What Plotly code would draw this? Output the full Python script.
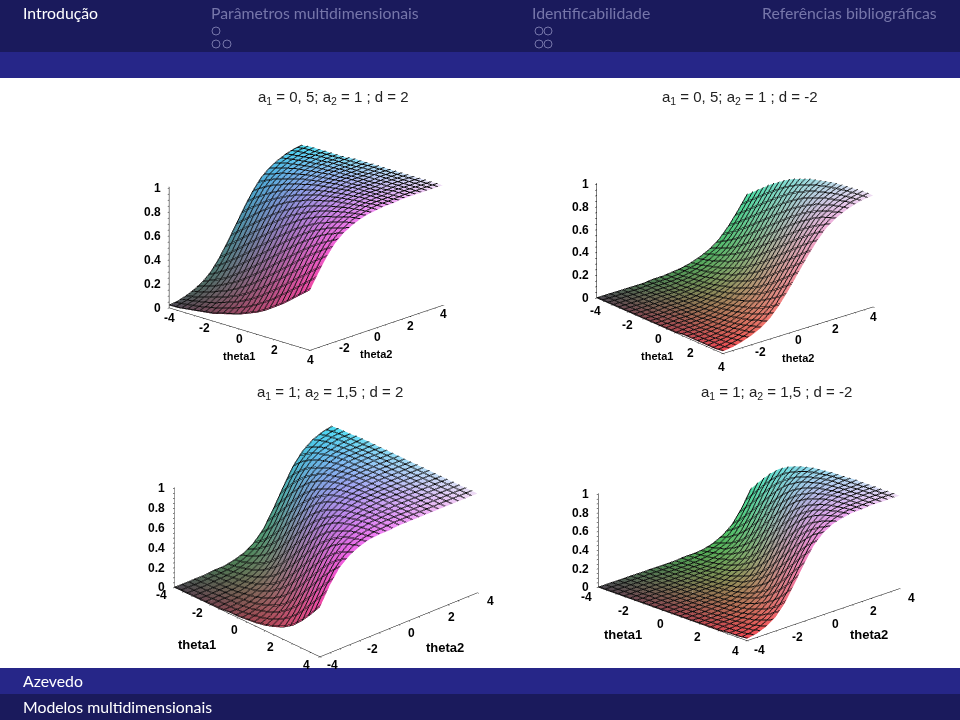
import math
import plotly.graph_objects as go

THETA1 = [-4, -3.5, -3, -2.5, -2, -1.5, -1, -0.5, 0, 0.5, 1, 1.5, 2, 2.5, 3, 3.5, 4]
THETA2 = [-4, -3.5, -3, -2.5, -2, -1.5, -1, -0.5, 0, 0.5, 1, 1.5, 2, 2.5, 3, 3.5, 4]
Z_TICKS = [0, 0.2, 0.4, 0.6, 0.8, 1]
Z_MINOR = [0, 0.05, 0.1, 0.15, 0.2, 0.25, 0.3, 0.35, 0.4, 0.45, 0.5, 0.55, 0.6, 0.65, 0.7, 0.75, 0.8, 0.85, 0.9, 0.95, 1]
T1_TICKS = [-4, -2, 0, 2, 4]
T2_TICKS_TOP = [-2, 0, 2, 4]
T2_TICKS_BOTTOM = [-4, -2, 0, 2, 4]

# Heights of the surfaces in percent; rows follow THETA1, columns THETA2.
P1 = [
[2,3,5,8,12,18,27,38,50,62,73,82,88,92,95,97,98],
[2,4,6,10,15,22,32,44,56,68,78,85,90,94,96,98,99],
[3,5,8,12,18,27,38,50,62,73,82,88,92,95,97,98,99],
[4,6,10,15,22,32,44,56,68,78,85,90,94,96,98,99,99],
[5,8,12,18,27,38,50,62,73,82,88,92,95,97,98,99,99],
[6,10,15,22,32,44,56,68,78,85,90,94,96,98,99,99,99],
[8,12,18,27,38,50,62,73,82,88,92,95,97,98,99,99,100],
[10,15,22,32,44,56,68,78,85,90,94,96,98,99,99,99,100],
[12,18,27,38,50,62,73,82,88,92,95,97,98,99,99,100,100],
[15,22,32,44,56,68,78,85,90,94,96,98,99,99,99,100,100],
[18,27,38,50,62,73,82,88,92,95,97,98,99,99,100,100,100],
[22,32,44,56,68,78,85,90,94,96,98,99,99,99,100,100,100],
[27,38,50,62,73,82,88,92,95,97,98,99,99,100,100,100,100],
[32,44,56,68,78,85,90,94,96,98,99,99,99,100,100,100,100],
[38,50,62,73,82,88,92,95,97,98,99,99,100,100,100,100,100],
[44,56,68,78,85,90,94,96,98,99,99,99,100,100,100,100,100],
[50,62,73,82,88,92,95,97,98,99,99,100,100,100,100,100,100],
]
P2 = [
[0,0,0,0,0,0,1,1,2,3,5,8,12,18,27,38,50],
[0,0,0,0,0,1,1,1,2,4,6,10,15,22,32,44,56],
[0,0,0,0,0,1,1,2,3,5,8,12,18,27,38,50,62],
[0,0,0,0,1,1,1,2,4,6,10,15,22,32,44,56,68],
[0,0,0,0,1,1,2,3,5,8,12,18,27,38,50,62,73],
[0,0,0,1,1,1,2,4,6,10,15,22,32,44,56,68,78],
[0,0,0,1,1,2,3,5,8,12,18,27,38,50,62,73,82],
[0,0,1,1,1,2,4,6,10,15,22,32,44,56,68,78,85],
[0,0,1,1,2,3,5,8,12,18,27,38,50,62,73,82,88],
[0,1,1,1,2,4,6,10,15,22,32,44,56,68,78,85,90],
[0,1,1,2,3,5,8,12,18,27,38,50,62,73,82,88,92],
[1,1,1,2,4,6,10,15,22,32,44,56,68,78,85,90,94],
[1,1,2,3,5,8,12,18,27,38,50,62,73,82,88,92,95],
[1,1,2,4,6,10,15,22,32,44,56,68,78,85,90,94,96],
[1,2,3,5,8,12,18,27,38,50,62,73,82,88,92,95,97],
[1,2,4,6,10,15,22,32,44,56,68,78,85,90,94,96,98],
[2,3,5,8,12,18,27,38,50,62,73,82,88,92,95,97,98],
]
P3 = [
[0,0,0,0,1,1,3,6,12,22,38,56,73,85,92,96,98],
[0,0,0,1,1,2,5,10,18,32,50,68,82,90,95,98,99],
[0,0,0,1,2,4,8,15,27,44,62,78,88,94,97,99,99],
[0,0,1,1,3,6,12,22,38,56,73,85,92,96,98,99,100],
[0,1,1,2,5,10,18,32,50,68,82,90,95,98,99,99,100],
[0,1,2,4,8,15,27,44,62,78,88,94,97,99,99,100,100],
[1,1,3,6,12,22,38,56,73,85,92,96,98,99,100,100,100],
[1,2,5,10,18,32,50,68,82,90,95,98,99,99,100,100,100],
[2,4,8,15,27,44,62,78,88,94,97,99,99,100,100,100,100],
[3,6,12,22,38,56,73,85,92,96,98,99,100,100,100,100,100],
[5,10,18,32,50,68,82,90,95,98,99,99,100,100,100,100,100],
[8,15,27,44,62,78,88,94,97,99,99,100,100,100,100,100,100],
[12,22,38,56,73,85,92,96,98,99,100,100,100,100,100,100,100],
[18,32,50,68,82,90,95,98,99,99,100,100,100,100,100,100,100],
[27,44,62,78,88,94,97,99,99,100,100,100,100,100,100,100,100],
[38,56,73,85,92,96,98,99,100,100,100,100,100,100,100,100,100],
[50,68,82,90,95,98,99,99,100,100,100,100,100,100,100,100,100],
]
P4 = [
[0,0,0,0,0,0,0,0,0,1,1,2,5,10,18,32,50],
[0,0,0,0,0,0,0,0,0,1,2,4,8,15,27,44,62],
[0,0,0,0,0,0,0,0,1,1,3,6,12,22,38,56,73],
[0,0,0,0,0,0,0,1,1,2,5,10,18,32,50,68,82],
[0,0,0,0,0,0,0,1,2,4,8,15,27,44,62,78,88],
[0,0,0,0,0,0,1,1,3,6,12,22,38,56,73,85,92],
[0,0,0,0,0,1,1,2,5,10,18,32,50,68,82,90,95],
[0,0,0,0,0,1,2,4,8,15,27,44,62,78,88,94,97],
[0,0,0,0,1,1,3,6,12,22,38,56,73,85,92,96,98],
[0,0,0,1,1,2,5,10,18,32,50,68,82,90,95,98,99],
[0,0,0,1,2,4,8,15,27,44,62,78,88,94,97,99,99],
[0,0,1,1,3,6,12,22,38,56,73,85,92,96,98,99,100],
[0,1,1,2,5,10,18,32,50,68,82,90,95,98,99,99,100],
[0,1,2,4,8,15,27,44,62,78,88,94,97,99,99,100,100],
[1,1,3,6,12,22,38,56,73,85,92,96,98,99,100,100,100],
[1,2,5,10,18,32,50,68,82,90,95,98,99,99,100,100,100],
[2,4,8,15,27,44,62,78,88,94,97,99,99,100,100,100,100],
]

NAV_TITLES = ["Introdução", "Parâmetros multidimensionais", "Identificabilidade", "Referências bibliográficas"]
FOOT_AUTHOR = "Azevedo"
FOOT_TITLE = "Modelos multidimensionais"
PANEL_TITLES = [
    "a<sub>1</sub> = 0, 5; a<sub>2</sub> = 1 ; d = 2",
    "a<sub>1</sub> = 0, 5; a<sub>2</sub> = 1 ; d = -2",
    "a<sub>1</sub> = 1; a<sub>2</sub> = 1,5 ; d = 2",
    "a<sub>1</sub> = 1; a<sub>2</sub> = 1,5 ; d = -2",
]

W, H = 960, 720
DARK, BAND, DIM = "#1a1a5c", "#262688", "#7676aa"
TICK_FONT = dict(family="Liberation Sans", size=12, color="black", weight=700)

PANELS = [
    dict(z=P1, c=(306, 246), h=(0.6875, -0.729), el=0.32, za=0.66, k=1.49, t2=T2_TICKS_TOP,
         t1s=(0, 10), t2s=(1, 9), zs=-6, tt1=(-1, 27), tt2=(0, 26), ts=11),
    dict(z=P2, c=(735, 245), h=(0.766, -0.643), el=0.37, za=0.63, k=1.51, t2=T2_TICKS_TOP,
         t1s=(-1, 13), t2s=(0, 10), zs=-6, tt1=(-3, 30), tt2=(0, 28), ts=11),
    dict(z=P3, c=(326, 540), h=(0.734, -0.678), el=0.44, za=0.52, k=1.65, t2=T2_TICKS_BOTTOM,
         t1s=(-13, 8), t2s=(13, 8), zs=-7, tt1=(-50, 22), tt2=(46, 23), ts=13),
    dict(z=P4, c=(749, 541), h=(0.716, -0.698), el=0.35, za=0.47, k=1.64, t2=T2_TICKS_BOTTOM,
         t1s=(-12, 10), t2s=(12, 9), zs=-7, tt1=(-50, 21), tt2=(46, 20), ts=13),
]
DW, DH = 400, 260
LINE_OFFSETS = [0, 0.05]

fig = go.Figure()
n1, n2 = len(THETA1), len(THETA2)
layout_scenes = {}
for p, cfg in enumerate(PANELS):
    name = "scene" if p == 0 else f"scene{p + 1}"
    Z = [[v / 100 for v in row] for row in cfg["z"]]
    xs, ys, zs, cols = [], [], [], []
    for a in range(n1):
        for b in range(n2):
            xs.append(THETA1[a]); ys.append(THETA2[b]); zs.append(Z[a][b])
            r = 75 + 165 * (THETA1[a] + 4) / 8
            g = 70 + 150 * (THETA2[b] + 4) / 8
            bl = 80 + 165 * Z[a][b]
            cols.append(f"rgb({r:.0f},{g:.0f},{bl:.0f})")
    ii, jj, kk = [], [], []
    for a in range(n1 - 1):
        for b in range(n2 - 1):
            q = a * n2 + b
            ii += [q, q + 1]; jj += [q + 1, q + n2 + 1]; kk += [q + n2, q + n2]
    fig.add_trace(go.Mesh3d(x=xs, y=ys, z=zs, i=ii, j=jj, k=kk, vertexcolor=cols,
                            lighting=dict(ambient=1, diffuse=0, specular=0, roughness=1, fresnel=0),
                            hoverinfo="skip", scene=name))
    Zl = [[v + 0.004 for v in row] for row in Z]
    for off in LINE_OFFSETS:
        fig.add_trace(go.Surface(
            x=[[THETA1[a]] * n2 for a in range(n1)],
            y=[THETA2 for a in range(n1)],
            z=Zl, opacity=0.01, showscale=False, hoverinfo="skip", scene=name,
            colorscale=[[0, "white"], [1, "white"]],
            contours=dict(
                x=dict(show=True, start=-4 + off, end=4.01, size=1 / 3, color="#111111", width=2, highlight=False),
                y=dict(show=True, start=-4 + off, end=4.01, size=1 / 3, color="#111111", width=2, highlight=False),
                z=dict(show=False, highlight=False))))
    cx, cy = cfg["c"]
    el = cfg["el"]; ce = math.sqrt(1 - el * el)
    axis = dict(showbackground=False, showgrid=False, zeroline=False, showspikes=False,
                showline=True, linecolor="black", linewidth=1, ticks="outside", ticklen=2,
                tickcolor="black", tickwidth=1, showticklabels=False, title=dict(text=""))
    scene_anns = []
    for t in T1_TICKS:
        scene_anns.append(dict(x=t, y=-4, z=0, text=str(t), showarrow=False, font=TICK_FONT,
                               xshift=cfg["t1s"][0], yshift=-cfg["t1s"][1]))
    for t in cfg["t2"]:
        scene_anns.append(dict(x=4, y=t, z=0, text=str(t), showarrow=False, font=TICK_FONT,
                               xshift=cfg["t2s"][0], yshift=-cfg["t2s"][1]))
    for t in Z_TICKS:
        scene_anns.append(dict(x=-4, y=-4, z=t, text=str(t), showarrow=False, font=TICK_FONT,
                               xanchor="right", xshift=cfg["zs"]))
    title_font = dict(TICK_FONT, size=cfg["ts"])
    scene_anns.append(dict(x=0, y=-4, z=0, text="theta1", showarrow=False, font=title_font,
                           xshift=cfg["tt1"][0], yshift=-cfg["tt1"][1]))
    scene_anns.append(dict(x=4, y=0, z=0, text="theta2", showarrow=False, font=title_font,
                           xshift=cfg["tt2"][0], yshift=-cfg["tt2"][1]))
    layout_scenes[name] = dict(
        domain=dict(x=[(cx - DW / 2) / W, (cx + DW / 2) / W], y=[1 - (cy + DH / 2) / H, 1 - (cy - DH / 2) / H]),
        aspectmode="manual", aspectratio=dict(x=cfg["k"], y=cfg["k"], z=cfg["za"] * cfg["k"]),
        camera=dict(eye=dict(x=2 * ce * cfg["h"][0], y=2 * ce * cfg["h"][1], z=2 * el),
                    center=dict(x=0, y=0, z=0), up=dict(x=0, y=0, z=1),
                    projection=dict(type="orthographic")),
        xaxis=dict(axis, range=[-4, 4], tickvals=THETA1),
        yaxis=dict(axis, range=[-4, 4], tickvals=THETA2),
        zaxis=dict(axis, range=[0, 1.01], tickvals=Z_MINOR),
        annotations=scene_anns,
    )

def band(y0, y1, color):
    return dict(type="rect", xref="paper", yref="paper", x0=0, x1=1, y0=1 - y1 / H, y1=1 - y0 / H,
                fillcolor=color, line_width=0, layer="below")

def dot(x, y):
    return dict(type="circle", xref="paper", yref="paper", x0=(x - 4) / W, x1=(x + 4) / W,
                y0=1 - (y + 4) / H, y1=1 - (y - 4) / H, line=dict(color=DIM, width=1))

def label(text, x, y, size, color, anchor="left", family="Lato"):
    return dict(text=text, xref="paper", yref="paper", x=x / W, y=1 - y / H, xanchor=anchor, yanchor="middle",
                showarrow=False, font=dict(family=family, size=size, color=color))

shapes = [band(0, 52, DARK), band(52, 78, BAND), band(668, 694, BAND), band(694, 720, DARK)]
shapes += [dot(x, y) for x, y in [(216, 31), (216, 44), (227, 44), (539, 31), (548, 31), (539, 44), (548, 44)]]
anns = [
    label(NAV_TITLES[0], 21, 12, 15.8, "white"),
    label(NAV_TITLES[1], 209, 12, 15.8, DIM),
    label(NAV_TITLES[2], 530, 12, 15.8, DIM),
    label(NAV_TITLES[3], 760, 12, 15.8, DIM),
    label(FOOT_AUTHOR, 21, 680, 15.8, "white"),
    label(FOOT_TITLE, 21, 706, 15.8, "white"),
    label(PANEL_TITLES[0], 333.5, 98, 15, "#222222", "center", "Liberation Sans"),
    label(PANEL_TITLES[1], 739.5, 98, 15, "#222222", "center", "Liberation Sans"),
    label(PANEL_TITLES[2], 330, 393, 15, "#222222", "center", "Liberation Sans"),
    label(PANEL_TITLES[3], 776, 393, 15, "#222222", "center", "Liberation Sans"),
]

fig.update_layout(width=W, height=H, margin=dict(l=0, r=0, t=0, b=0), paper_bgcolor="white",
                  showlegend=False, shapes=shapes, annotations=anns, **layout_scenes)
fig.write_html("out.html", config=dict(displayModeBar=False), post_script="document.body.style.margin='0';")
